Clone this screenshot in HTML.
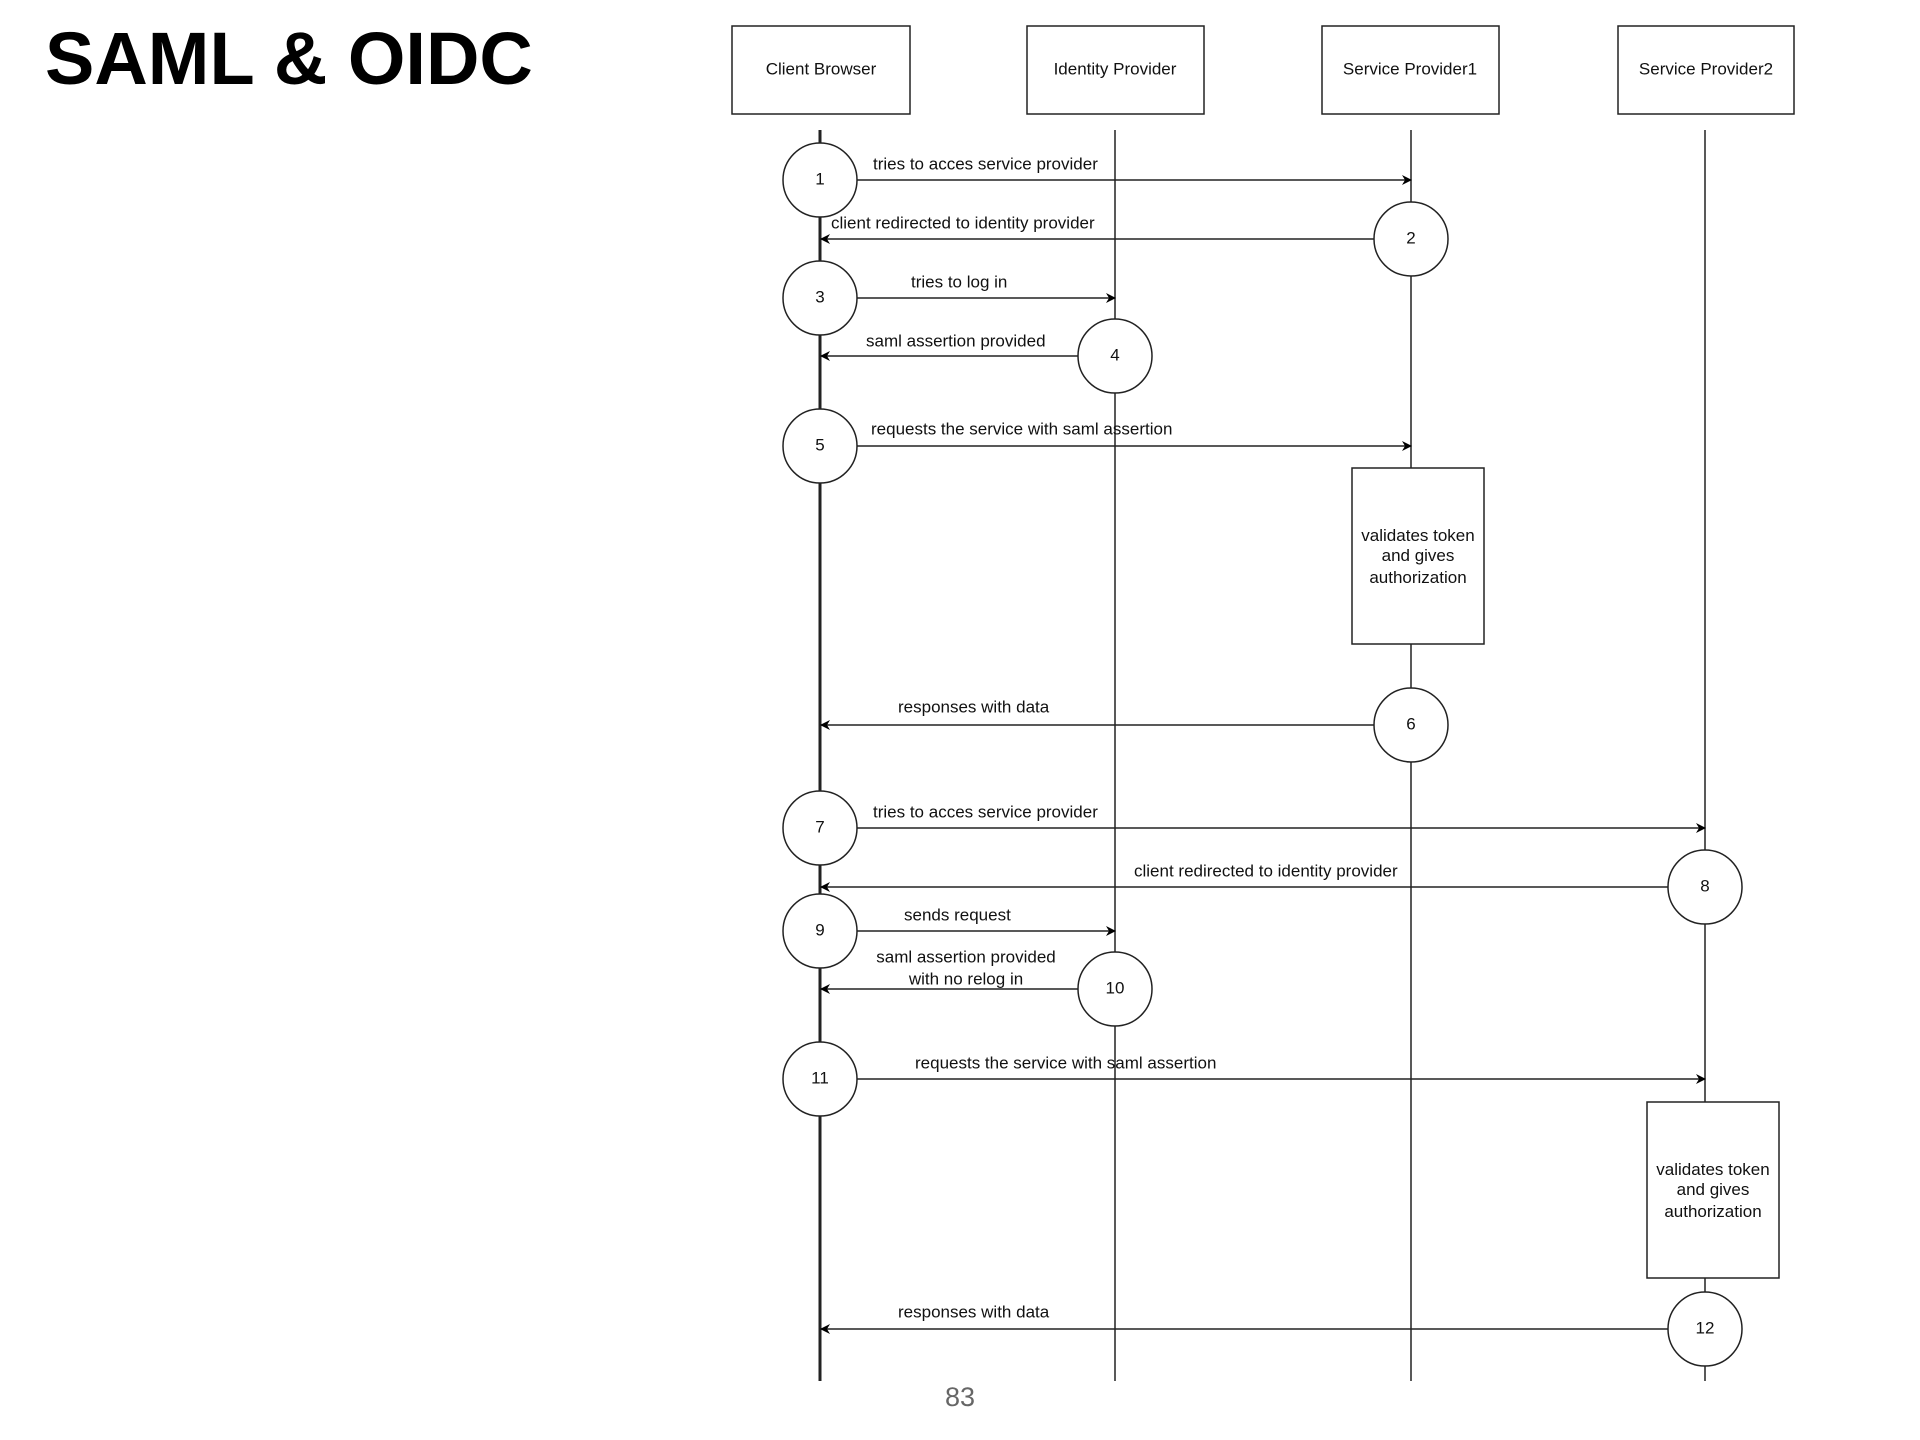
<!DOCTYPE html>
<html><head><meta charset="utf-8"><style>
html,body{margin:0;padding:0;background:#fff;}
svg{display:block;}
</style></head><body>
<svg width="1920" height="1440" viewBox="0 0 1920 1440" xmlns="http://www.w3.org/2000/svg" font-family="Liberation Sans, Arial, sans-serif">
<defs>
<marker id="a" markerWidth="10" markerHeight="10" refX="9" refY="5" orient="auto" markerUnits="userSpaceOnUse">
<path d="M0,0 L10,5 L0,10 L3,5 Z" fill="#000"/></marker>
</defs>
<text x="45" y="84" font-size="74" font-weight="bold" fill="#000">SAML &amp; OIDC</text>
<g fill="#fff" stroke="#222" stroke-width="1.5">
<rect x="732" y="26" width="178" height="88"/>
<rect x="1027" y="26" width="177" height="88"/>
<rect x="1322" y="26" width="177" height="88"/>
<rect x="1618" y="26" width="176" height="88"/>
</g>
<g font-size="17" text-anchor="middle" fill="#111" dominant-baseline="middle">
<text x="821" y="70">Client Browser</text>
<text x="1115" y="70">Identity Provider</text>
<text x="1410" y="70">Service Provider1</text>
<text x="1706" y="70">Service Provider2</text>
</g>
<g stroke="#222">
<line x1="820" y1="130" x2="820" y2="1381" stroke-width="3"/>
<line x1="1115" y1="130" x2="1115" y2="1381" stroke-width="1.5"/>
<line x1="1411" y1="130" x2="1411" y2="1381" stroke-width="1.5"/>
<line x1="1705" y1="130" x2="1705" y2="1381" stroke-width="1.5"/>
</g>
<g fill="#fff" stroke="#222" stroke-width="1.5">
<rect x="1352" y="468" width="132" height="176"/>
<rect x="1647" y="1102" width="132" height="176"/>
</g>
<g font-size="17" text-anchor="middle" fill="#111">
<text x="1418" y="541">validates token</text><text x="1418" y="561">and gives</text><text x="1418" y="583">authorization</text>
<text x="1713" y="1175">validates token</text><text x="1713" y="1195">and gives</text><text x="1713" y="1217">authorization</text>
</g>
<g stroke="#222" stroke-width="1.5" marker-end="url(#a)">
<line x1="857" y1="180" x2="1411" y2="180"/>
<line x1="1374" y1="239" x2="821" y2="239"/>
<line x1="857" y1="298" x2="1115" y2="298"/>
<line x1="1078" y1="356" x2="821" y2="356"/>
<line x1="857" y1="446" x2="1411" y2="446"/>
<line x1="1374" y1="725" x2="821" y2="725"/>
<line x1="857" y1="828" x2="1705" y2="828"/>
<line x1="1668" y1="887" x2="821" y2="887"/>
<line x1="857" y1="931" x2="1115" y2="931"/>
<line x1="1078" y1="989" x2="821" y2="989"/>
<line x1="857" y1="1079" x2="1705" y2="1079"/>
<line x1="1668" y1="1329" x2="821" y2="1329"/>
</g>
<g fill="#fff" stroke="#222" stroke-width="1.5">
<circle cx="820" cy="180" r="37"/><circle cx="1411" cy="239" r="37"/>
<circle cx="820" cy="298" r="37"/><circle cx="1115" cy="356" r="37"/>
<circle cx="820" cy="446" r="37"/><circle cx="1411" cy="725" r="37"/>
<circle cx="820" cy="828" r="37"/><circle cx="1705" cy="887" r="37"/>
<circle cx="820" cy="931" r="37"/><circle cx="1115" cy="989" r="37"/>
<circle cx="820" cy="1079" r="37"/><circle cx="1705" cy="1329" r="37"/>
</g>
<g font-size="17" text-anchor="middle" fill="#111" dominant-baseline="middle">
<text x="820" y="180">1</text><text x="1411" y="239">2</text><text x="820" y="298">3</text>
<text x="1115" y="356">4</text><text x="820" y="446">5</text><text x="1411" y="725">6</text>
<text x="820" y="828">7</text><text x="1705" y="887">8</text><text x="820" y="931">9</text>
<text x="1115" y="989">10</text><text x="820" y="1079">11</text><text x="1705" y="1329">12</text>
</g>
<g font-size="17" fill="#111" dominant-baseline="middle">
<text x="873" y="165">tries to acces service provider</text>
<text x="831" y="224">client redirected to identity provider</text>
<text x="911" y="283">tries to log in</text>
<text x="866" y="342">saml assertion provided</text>
<text x="871" y="430">requests the service with saml assertion</text>
<text x="898" y="708">responses with data</text>
<text x="873" y="813">tries to acces service provider</text>
<text x="1134" y="872">client redirected to identity provider</text>
<text x="904" y="916">sends request</text>
<text x="966" y="958" text-anchor="middle">saml assertion provided</text>
<text x="966" y="980" text-anchor="middle">with no relog in</text>
<text x="915" y="1064">requests the service with saml assertion</text>
<text x="898" y="1313">responses with data</text>
</g>
<text x="960" y="1406" font-size="27" fill="#666" text-anchor="middle">83</text>
</svg>
</body></html>
